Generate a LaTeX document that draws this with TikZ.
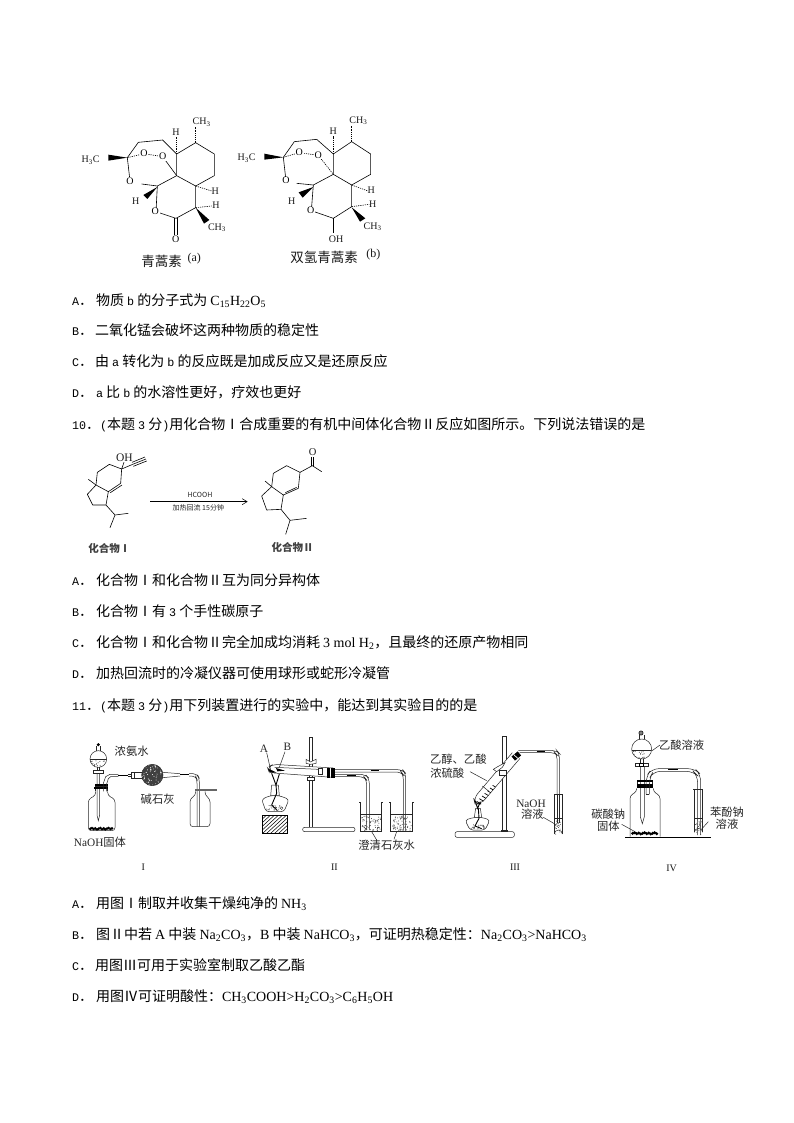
\documentclass[tikz,border=0pt]{standalone}
\usepackage{fontspec}
\usetikzlibrary{patterns,arrows.meta}
\setmainfont{Liberation Serif}
\newfontfamily\zhf{Noto Sans CJK SC}
\newfontfamily\mof{Liberation Mono}
\newcommand\en[1]{{\rmfamily\fontsize{14}{16}\selectfont #1}}
\newcommand\mo[1]{{\mof\fontsize{11.7}{16}\selectfont #1}}
\newcommand\sbs[1]{\textsubscript{#1}}
\newcommand\speckbox[5]{\foreach \ii in {1,...,#5}{\pgfmathsetmacro\px{#1+rnd*(#3-#1)}\pgfmathsetmacro\py{#2+rnd*(#4-#2)}\fill[black!75] (\px,\py) circle (1.5);}}
\newcommand\hatchbox[4]{\begin{scope}\clip (#1,#2) rectangle (#3,#4);
 \foreach \d in {0,12,...,160}{\draw[line width=0.5pt] ({#1+\d-60},#4)--({#1+\d},#2);}\end{scope}\draw[line width=0.5pt] (#1,#2) rectangle (#3,#4);}
\tikzset{
 txt/.style={anchor=base west,inner sep=0pt,outer sep=0pt,font=\zhf\fontsize{14}{16}\selectfont},
 lab/.style={inner sep=0pt,font=\rmfamily\fontsize{10}{11}\selectfont,text=black!90},
 captxt/.style={inner sep=0pt,font=\zhf\fontsize{11.3}{13}\selectfont,text=black!85},
 molcap/.style={inner sep=0pt,font=\zhf\fontsize{13.5}{15}\selectfont,text=black!90},
 cmpd/.style={inner sep=0pt,font=\zhf\bfseries\fontsize{10.5}{12}\selectfont,text=black!75},
 tinytxt/.style={inner sep=0pt,font=\zhf\fontsize{7}{8}\selectfont,text=black!85},
 atom/.style={inner sep=0.6pt,fill=white,font=\rmfamily\fontsize{10}{11}\selectfont},
 bond/.style={line width=0.6pt,line join=round},
 hash/.style={line width=0.6pt,dash pattern=on 1.2pt off 1pt},
 app/.style={line width=0.5pt,draw=black!85},
 rub/.style={line width=1.6pt,draw=black},
}
\begin{document}
\begin{tikzpicture}[x=1pt,y=-1pt]
\pgfmathsetseed{7}
\useasboundingbox (0,0) rectangle (794,1123);
\fill[white] (0,0) rectangle (794,1123);

%%% molecule a
\begin{scope}[shift={(70,105)},scale=1/3]
\draw[bond] (377,113)--(433,147)--(433,212)--(377,243)--(320,212)--(320,147)--cycle;
\draw[bond] (320,147)--(278,105)--(205,112)--(172,158);
\draw[bond] (172,158)--(180,228);
\draw[bond] (215,237)--(262,243)--(320,212);
\draw[bond] (278,155)--(320,212);
\draw[bond] (262,243)--(258,320)--(318,340)--(377,308)--(377,243);
\draw[bond] (313,340)--(313,390) (321,340)--(321,390);
\draw[hash] (172,158)--(222,146) (222,146)--(278,155);
\draw[hash] (377,113)--(377,66) (320,147)--(320,95);
\draw[hash] (377,243)--(425,258) (377,308)--(425,303);
\fill (172,158)--(115,149)--(115,167)--cycle;
\fill (262,246)--(220,270)--(232,282)--cycle;
\fill (377,308)--(402,356)--(418,345)--cycle;
\node[atom] (aO1) at (222,146) {O};
\node[atom] (aO2) at (278,155) {O};
\node[atom] (aO3) at (180,228) {O};
\node[atom] (aO4) at (256,320) {O};
\node[atom] (aO5) at (317,403) {O};
\node[lab] (aCH3a) at (395,52) {CH\sbs{3}};
\node[lab] (aH3C) at (62,165) {H\sbs{3}C};
\node[lab] (aH1) at (318,83) {H};
\node[lab] (aH2) at (197,290) {H};
\node[lab] (aH3) at (436,259) {H};
\node[lab] (aH4) at (438,302) {H};
\node[lab] (aCH3b) at (441,368) {CH\sbs{3}};
\node[molcap] (acap) at (275,468) {青蒿素};
\node[lab,font=\rmfamily\fontsize{12}{13}\selectfont] (acap2) at (373,460) {(a)};
\end{scope}

%%% molecule b
\begin{scope}[shift={(230,105)},scale=1/3]
\draw[bond] (365,110)--(422,147)--(422,208)--(365,240)--(310,208)--(310,147)--cycle;
\draw[bond] (310,147)--(260,103)--(193,110)--(160,157);
\draw[bond] (160,157)--(168,227);
\draw[bond] (200,235)--(250,240)--(310,208);
\draw[hash] (265,151)--(310,208);
\draw[bond] (250,240)--(244,317)--(310,340)--(365,305)--(365,240);
\draw[bond] (310,340)--(310,385);
\draw[hash] (160,157)--(208,143) (208,143)--(265,151);
\draw[hash] (365,110)--(365,62) (310,147)--(310,92);
\draw[hash] (365,240)--(414,258) (365,305)--(418,298);
\fill (160,157)--(103,146)--(103,164)--cycle;
\fill (250,246)--(206,262)--(218,278)--cycle;
\fill (365,307)--(390,350)--(406,340)--cycle;
\node[atom] (bO1) at (208,143) {O};
\node[atom] (bO2) at (265,151) {O};
\node[atom] (bO3) at (168,227) {O};
\node[atom] (bO4) at (242,317) {O};
\node[lab] (bOH) at (318,402) {OH};
\node[lab] (bCH3a) at (385,47) {CH\sbs{3}};
\node[lab] (bH3C) at (50,160) {H\sbs{3}C};
\node[lab] (bH1) at (310,78) {H};
\node[lab] (bH2) at (185,290) {H};
\node[lab] (bH3) at (424,257) {H};
\node[lab] (bH4) at (428,298) {H};
\node[lab] (bCH3b) at (428,365) {CH\sbs{3}};
\node[molcap] (bcap) at (282,456) {双氢青蒿素};
\node[lab,font=\rmfamily\fontsize{12}{13}\selectfont] (bcap2) at (430,450) {(b)};
\end{scope}

%%% text block 1
\node[txt] (t1l) at (72,305) {\mo{A}．};
\node[txt] (t1) at (96,305) {物质 \mo{b} 的分子式为 \en{C\sbs{15}H\sbs{22}O\sbs{5}}};
\node[txt] (t2l) at (72,335.5) {\mo{B}．};
\node[txt] (t2) at (95,335.5) {二氧化锰会破坏这两种物质的稳定性};
\node[txt] (t3l) at (72,366) {\mo{C}．};
\node[txt] (t3) at (95,366) {由 \mo{a} 转化为 \mo{b} 的反应既是加成反应又是还原反应};
\node[txt] (t4l) at (72,397.5) {\mo{D}．};
\node[txt] (t4) at (96,397.5) {\mo{a} 比 \mo{b} 的水溶性更好，疗效也更好};
\node[txt] (t5) at (72,429) {\mo{10}．\mo{(}本题 \mo{3} 分\mo{)}用化合物Ⅰ合成重要的有机中间体化合物Ⅱ反应如图所示。下列说法错误的是};

%%% reaction
\begin{scope}[shift={(70,445)},scale=1/3]
\draw[bond] (155,72)--(118,58)--(82,82)--(78,120)--(115,140)--(152,115)--cycle;
\draw[bond] (121,143)--(156,120);
\draw[bond] (78,120)--(52,148)--(68,180)--(108,180)--(115,140);
\draw[bond] (78,120)--(55,103);
\draw[bond] (108,180)--(135,210)--(175,205) (135,210)--(120,248);
\draw[bond] (155,72)--(162,52);
\draw[bond] (155,72)--(188,58);
\draw[bond] (186,52)--(225,36) (188,58)--(228,42) (190,64)--(230,48);
\node[lab,font=\rmfamily\fontsize{11.5}{12}\selectfont] (mOH) at (163,37) {OH};
\draw[line width=0.5pt,-{Straight Barb[length=5pt,width=6pt]}] (240,170)--(533,170);
\node[tinytxt] (rH) at (390,150) {HCOOH};
\node[tinytxt] (rC) at (385,190) {加热回流 15分钟};
\node[cmpd] (mI) at (118,310) {化合物Ⅰ};
\draw[bond] (690,82)--(650,62)--(610,85)--(605,125)--(640,150)--(685,130)--cycle;
\draw[bond] (646,143)--(680,127);
\draw[bond] (605,125)--(575,153)--(590,195)--(633,193)--(640,150);
\draw[bond] (605,125)--(585,108);
\draw[bond] (633,193)--(660,226)--(710,220) (660,226)--(647,268);
\draw[bond] (690,82)--(727,62)--(755,80);
\draw[bond] (723,62)--(723,36) (731,62)--(731,36);
\node[lab,font=\rmfamily\fontsize{10.5}{11}\selectfont] (mO) at (728,21) {O};
\node[cmpd] (mII) at (668,308) {化合物Ⅱ};
\end{scope}

%%% text block 2
\node[txt] (u1l) at (72,585) {\mo{A}．};
\node[txt] (u1) at (96,585) {化合物Ⅰ和化合物Ⅱ互为同分异构体};
\node[txt] (u2l) at (72,616) {\mo{B}．};
\node[txt] (u2) at (96,616) {化合物Ⅰ有 \mo{3} 个手性碳原子};
\node[txt] (u3l) at (72,647) {\mo{C}．};
\node[txt] (u3) at (96,647) {化合物Ⅰ和化合物Ⅱ完全加成均消耗 \en{3 mol H\sbs{2}}，且最终的还原产物相同};
\node[txt] (u4l) at (72,678) {\mo{D}．};
\node[txt] (u4) at (96,678) {加热回流时的冷凝仪器可使用球形或蛇形冷凝管};
\node[txt] (u5) at (72,710) {\mo{11}．\mo{(}本题 \mo{3} 分\mo{)}用下列装置进行的实验中，能达到其实验目的的是};

%%% apparatus I
\begin{scope}[shift={(65,730)},scale=1/3]
\begin{scope}\clip (100,87) circle (25);
\speckbox{76}{90}{124}{112}{18}
\draw[app] (70,88)--(130,88);
\end{scope}
\draw[app] (100,87) circle (25);
\draw[app] (94,63)--(94,48) (106,63)--(106,48);
\fill (100,44) circle (5);
\draw[app,fill=white] (85,122) rectangle (115,130);
\draw[app] (96,112)--(96,122) (104,112)--(104,122);
\draw[app] (96,130)--(96,255)--(100,272)--(104,255)--(104,130);
\fill[black] (90,163) rectangle (128,170);
\fill[black] (88,172) rectangle (130,178);
\draw[app] (90,170)--(128,170) (90,178)--(90,184) (128,178)--(128,184);
\draw[app,rounded corners=3pt] (92,184)--(92,196)--(70,208)--(70,302)--(150,302)--(150,208)--(128,196)--(128,184);
\draw[app] (115,184)--(115,160)--(122,140)--(135,133)--(160,133) (125,184)--(125,162)--(130,146)--(137,140)--(160,140);
\draw[rub] (160,136)--(190,136);
\draw[app] (190,133)--(202,133) (190,140)--(202,140);
\draw[app,fill=white] (200,126) rectangle (208,146);
\draw[app,fill=white] (208,128) rectangle (232,144);
\fill[black!75] (262,135) circle (32);
\begin{scope}\clip (262,135) circle (32);
\foreach \ii in {1,...,70}{\pgfmathsetmacro\px{230+rnd*64}\pgfmathsetmacro\py{103+rnd*64}\fill[white] (\px,\py) circle (1.3);}
\end{scope}
\draw[app] (262,135) circle (32);
\draw[app] (293,127)--(345,131) (293,143)--(345,138);
\draw[rub] (345,134)--(372,134);
\draw[app,rounded corners=4pt] (372,131)--(396,131)--(403,145)--(403,290) (372,138)--(392,138)--(396,148)--(396,290);
\draw[app,rounded corners=3pt] (392,184)--(392,195)--(375,207)--(375,290)--(435,290)--(435,207)--(420,195)--(420,184);
\draw[line width=1.2pt,black!60] (390,180)--(455,180);
\foreach \x [count=\i] in {76,81,...,144} {\fill ({\x},{298-mod(\i*7,5)}) circle (4.5);}
\node[captxt] (i1) at (200,65) {浓氨水};
\node[captxt] (i2) at (278,207) {碱石灰};
\node[captxt,font=\rmfamily\fontsize{11.3}{12}\selectfont] (i3) at (105,336) {NaOH{\zhf 固体}};
\node[lab] (i4) at (235,412) {I};
\end{scope}

%%% apparatus II
\begin{scope}[shift={(240,730)},scale=1/3]
\draw[app] (208,22)--(208,145) (216,22)--(216,145);
\draw[app] (208,22)--(216,22);
\draw[app] (208,145)--(208,292) (218,145)--(218,292);
\draw[app,fill=white,rounded corners=2pt] (188,292) rectangle (345,305);
\draw[app,fill=white] (198,88)--(212,96)--(228,88)--(228,100)--(212,103)--(198,100)--cycle;
\draw[app,fill=white] (203,142) rectangle (222,150);
\draw[app,fill=white,rounded corners=5pt] (280,114)--(100,103)--(82,112)--(88,128)--(278,142);
\draw[app] (104,112)--(235,118);
\fill (84,116)--(98,122)--(110,128)--(90,128)--cycle;
\fill (108,114)--(135,122)--(112,124)--cycle;
\fill[black] (262,114) rectangle (270,144);
\fill[black] (274,113) rectangle (285,145);
\draw[app,fill=white] (235,115) rectangle (246,134);
\draw[app,rounded corners=5pt] (285,119)--(488,119)--(497,130)--(497,302) (285,126)--(484,126)--(490,134)--(490,302);
\draw[app,rounded corners=5pt] (285,133)--(376,133)--(388,146)--(388,300) (285,140)--(372,140)--(380,150)--(380,300);
\draw[rub] (320,136)--(347,136);
\draw[rub] (392,122)--(418,122);
\draw[app] (358,218)--(362,218)--(362,305)--(425,305)--(425,218)--(430,218);
\draw[app] (448,218)--(452,218)--(452,305)--(518,305)--(518,218)--(522,218);
\speckbox{365}{258}{422}{302}{70}
\speckbox{455}{258}{515}{302}{70}
\draw[app] (362,254)--(425,254) (452,254)--(518,254);
\draw[app,fill=white,rounded corners=3pt] (90,197)--(65,208)--(78,245)--(132,245)--(147,208)--(118,197)--cycle;
\speckbox{80}{226}{130}{242}{30}
\draw[app,fill=white] (92,197)--(95,165)--(115,165)--(118,197)--cycle;
\draw[line width=0.9pt] (108,165)--(110,190)--(95,225)--(112,242);
\draw[line width=0.9pt] (95,130)--(108,165)--(118,132);
\hatchbox{68}{255}{143}{310}
\draw[app] (80,68)--(92,120) (135,65)--(118,112);
\draw[app] (395,305)--(410,330) (470,305)--(462,328);
\node[captxt,font=\rmfamily\fontsize{11.3}{12}\selectfont] (ii1) at (72,55) {A};
\node[captxt,font=\rmfamily\fontsize{11.3}{12}\selectfont] (ii2) at (142,50) {B};
\node[captxt] (ii3) at (440,347) {澄清石灰水};
\node[lab] (ii4) at (283,412) {II};
\end{scope}

%%% apparatus III
\begin{scope}[shift={(425,730)},scale=1/3]
\draw[app] (232,18)--(232,300) (243,18)--(243,300);
\draw[app] (232,18)--(243,18);
\draw[app,fill=white,rounded corners=2pt] (90,305) rectangle (268,322);
\draw[app,fill=white] (228,300) rectangle (246,305);
\draw[app,fill=white,rounded corners=6pt] (262,68)--(146,205)--(150,222)--(168,222)--(285,85);
\begin{scope}\clip (262,68)--(146,205)--(150,222)--(168,222)--(285,85)--cycle;
\foreach \t in {0,8,...,48} {\draw[line width=0.7pt] ({155+\t},{214-\t})--({170+\t},{214-\t+9});}
\end{scope}
\draw[app] (172,168)--(192,184);
\fill[black,rotate around={40:(274,78)}] (262,70) rectangle (286,86);
\draw[white,line width=0.7pt] (266,74)--(282,88);
\draw[app,fill=white] (205,118)--(218,110)--(240,98)--(232,112)--(215,125)--cycle;
\draw[app,fill=white] (222,122) rectangle (245,135);
\draw[app,rounded corners=4pt] (280,62)--(396,62)--(403,70)--(403,192) (284,68)--(390,68)--(396,74)--(396,192);
\draw[rub] (335,65)--(360,65);
\draw[app] (388,192)--(412,192) (388,192)--(388,312) (412,192)--(412,312);
\draw[app] (388,312) arc[start angle=180,end angle=360,radius=12] ;
\speckbox{391}{270}{409}{318}{22}
\draw[app] (388,265)--(412,265) (396,192)--(396,280) (403,192)--(403,280);
\draw[app,fill=white,rounded corners=3pt] (148,262)--(120,270)--(135,300)--(180,300)--(195,270)--(170,262)--cycle;
\speckbox{138}{284}{178}{297}{24}
\draw[app,fill=white] (148,262)--(152,235)--(166,235)--(170,262)--cycle;
\draw[line width=0.9pt] (160,235)--(162,265)--(150,288)--(170,296);
\draw[line width=0.9pt] (150,212)--(158,235)--(166,215);
\draw[app] (135,125)--(185,152) (355,262)--(395,285);
\node[captxt] (iii1) at (100,88) {乙醇、乙酸};
\node[captxt] (iii2) at (67,130) {浓硫酸};
\node[captxt,font=\rmfamily\fontsize{11.3}{12}\selectfont] (iii3) at (318,220) {NaOH};
\node[captxt] (iii4) at (322,253) {溶液};
\node[lab] (iii5) at (270,412) {III};
\end{scope}

%%% apparatus IV
\begin{scope}[shift={(580,725)},scale=1/3]
\begin{scope}\clip (185,72) circle (30);
\speckbox{158}{78}{212}{100}{18}
\draw[app] (150,75)--(220,75);
\end{scope}
\draw[app] (185,72) circle (30);
\draw[app] (178,43)--(178,30) (192,43)--(192,30);
\draw[app,fill=white,line width=0.9pt] (183,24) circle (6);
\fill (183,24) circle (2.5);
\draw[app] (180,101)--(180,115) (190,101)--(190,115);
\draw[app,fill=white] (165,115) rectangle (205,124);
\fill (178,113) rectangle (192,126);
\fill[white] (181,117) rectangle (189,122);
\draw[app] (181,124)--(181,275)--(187,296)--(193,275)--(193,124);
\fill[black] (172,165) rectangle (218,172);
\fill[black] (170,176) rectangle (220,190);
\draw[app] (172,172)--(172,176) (218,172)--(218,176);
\draw[app,rounded corners=3pt] (170,190)--(170,200)--(150,212)--(150,335) (220,190)--(220,200)--(240,212)--(240,335);
\draw[app,rounded corners=7pt] (198,208)--(198,155)--(215,131)--(345,131)--(362,148)--(362,330) (208,208)--(208,160)--(220,139)--(340,139)--(353,152)--(353,330);
\draw[rub] (265,133)--(295,133);
\draw[app] (198,208)--(208,208);
\draw[app] (340,192)--(370,192) (343,192)--(343,322) (368,192)--(368,322);
\draw[app] (343,322) arc[start angle=180,end angle=360,x radius=12.5,y radius=12];
\speckbox{346}{284}{365}{330}{20}
\draw[app] (343,280)--(368,280);
\foreach \x [count=\i] in {158,164,...,234} {\fill ({\x},{327-mod(\i*7,5)}) circle (5);}
\draw[line width=0.6pt] (135,337)--(392,337);
\draw[app] (240,60)--(215,78) (125,298)--(165,320) (365,312)--(385,290);
\node[captxt] (iv1) at (305,60) {乙酸溶液};
\node[captxt] (iv2) at (85,268) {碳酸钠};
\node[captxt] (iv3) at (85,305) {固体};
\node[captxt] (iv4) at (441,262) {苯酚钠};
\node[captxt] (iv5) at (441,297) {溶液};
\node[lab] (iv6) at (275,430) {IV};
\end{scope}

%%% text block 3
\node[txt] (v1l) at (72,908.5) {\mo{A}．};
\node[txt] (v1) at (96,908.5) {用图Ⅰ制取并收集干燥纯净的 \en{NH\sbs{3}}};
\node[txt] (v2l) at (72,939) {\mo{B}．};
\node[txt] (v2) at (96,939) {图Ⅱ中若 \en{A} 中装 \en{Na\sbs{2}CO\sbs{3}}，\en{B} 中装 \en{NaHCO\sbs{3}}，可证明热稳定性：\en{Na\sbs{2}CO\sbs{3}>NaHCO\sbs{3}}};
\node[txt] (v3l) at (72,970) {\mo{C}．};
\node[txt] (v3) at (95,970) {用图Ⅲ可用于实验室制取乙酸乙酯};
\node[txt] (v4l) at (72,1001) {\mo{D}．};
\node[txt] (v4) at (96,1001) {用图Ⅳ可证明酸性：\en{CH\sbs{3}COOH>H\sbs{2}CO\sbs{3}>C\sbs{6}H\sbs{5}OH}};
\end{tikzpicture}
\end{document}
